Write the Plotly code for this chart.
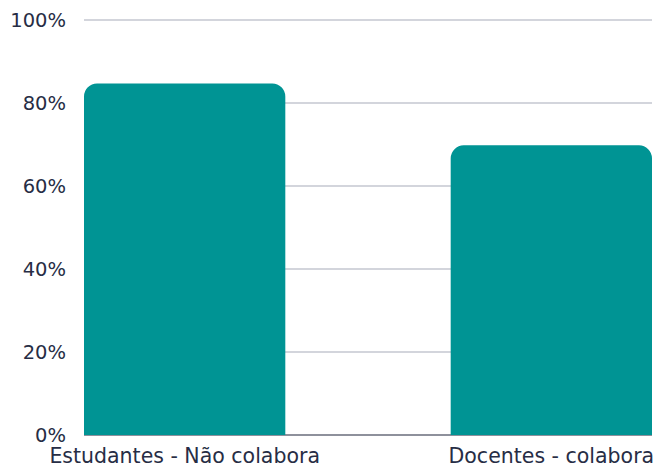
import plotly.graph_objects as go

categories = ["Estudantes - Não colabora", "Docentes - colabora"]
values = [84.7, 69.8]
y_ticks = [0, 20, 40, 60, 80, 100]
y_tick_labels = ["0%", "20%", "40%", "60%", "80%", "100%"]

xpos = list(range(len(categories)))
w = 0.549

fig = go.Figure(go.Bar(
    x=xpos, y=values, width=w,
    marker=dict(color="#009494", cornerradius=13, line=dict(width=0)),
    hoverinfo="skip",
))

font_family = "DejaVu Sans, Verdana, sans-serif"
fig.update_layout(
    width=655, height=468,
    margin=dict(l=84, r=3, t=19, b=33, autoexpand=False),
    plot_bgcolor="white", paper_bgcolor="white",
    showlegend=False,
    font=dict(family=font_family, size=19, color="#272d45"),
    xaxis=dict(
        range=[-w / 2, len(categories) - 1 + w / 2],
        tickmode="array", tickvals=xpos, ticktext=categories,
        showgrid=False, zeroline=False, showline=False,
        ticks="", ticklabelstandoff=6, automargin=False,
        tickfont=dict(size=20.5),
    ),
    yaxis=dict(
        range=[0, 100.25],
        tickmode="array", tickvals=y_ticks, ticktext=y_tick_labels,
        showgrid=True, gridcolor="#d3d5dc", gridwidth=1.5,
        zeroline=True, zerolinecolor="#8e919c", zerolinewidth=2,
        showline=False, ticks="", ticklabelstandoff=17, automargin=False,
        tickfont=dict(size=19.5),
    ),
)

fig.write_html(
    "out.html",
    config={"displayModeBar": False},
    post_script="document.body.style.margin='0';document.body.style.overflow='hidden';",
)
